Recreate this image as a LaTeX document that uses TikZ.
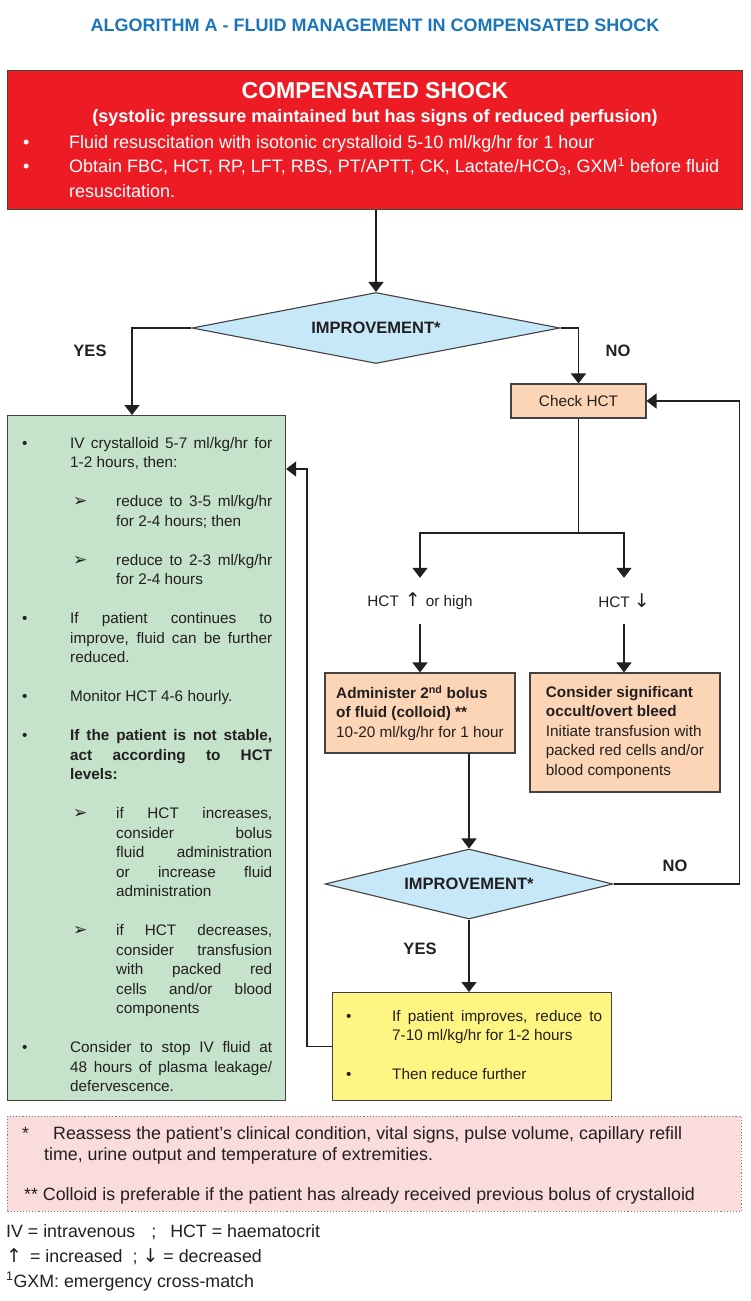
\documentclass[tikz,border=0pt]{standalone}
\usepackage{fontspec}
\setmainfont{Liberation Sans}
\newfontfamily\symfont{DejaVu Sans}
\usetikzlibrary{shapes.geometric,arrows.meta}

\definecolor{ink}{HTML}{231F20}
\definecolor{shockred}{HTML}{ED1C24}
\definecolor{titleblue}{HTML}{1B75BB}
\definecolor{decblue}{HTML}{C6E8F8}
\definecolor{caregreen}{HTML}{C5E2CB}
\definecolor{peach}{HTML}{FBD5B5}
\definecolor{weanyellow}{HTML}{FFF583}
\definecolor{notepink}{HTML}{FADCDC}

% hanging item: #1 = symbol indent, #2 = text indent, #3 = symbol
\newcommand{\hitem}[3]{\noindent\hangindent=#2\hangafter=1\hspace*{#1}\makebox[\dimexpr#2-#1\relax][l]{#3}\ignorespaces}
\newcommand{\justlist}{\setlength{\parskip}{19.5pt}\leftskip=0pt\rightskip=0pt\spaceskip=0pt\xspaceskip=0pt\parfillskip=0pt plus 1fil\relax}
\newcommand{\subarr}{{\symfont\fontsize{17}{17}\selectfont ➢}}
\newcommand{\uparr}{{\symfont\fontsize{19}{19}\selectfont ↑}}
\newcommand{\dnarr}{{\symfont\fontsize{19}{19}\selectfont ↓}}

\tikzset{box/.style={rectangle, draw=ink!85, line width=1.1pt, inner sep=0pt},
    decision/.style={diamond, draw=ink!85, line width=1.1pt, fill=decblue, inner sep=0pt,
        text=ink, font=\fontsize{16.5}{20}\selectfont\bfseries},
    arr/.style={draw=ink, line width=1.5pt, -{Triangle[width=15pt,length=10pt]}},
    line/.style={draw=ink, line width=1.5pt},
    lbl/.style={text=ink, font=\fontsize{16.5}{20}\selectfont\bfseries},
    body/.style={text=ink, font=\fontsize{15.3}{19.5}\selectfont},
    note/.style={text=ink, inner sep=0pt, anchor=base west, font=\fontsize{17.8}{22}\selectfont},
    }

\begin{document}
\begin{tikzpicture}[x=1pt,y=-1pt]
\useasboundingbox (0,0) rectangle (750,1301);

\node[anchor=base, text=titleblue, font=\fontsize{18}{22}\selectfont\bfseries] (ttl) at (375,31.5)
    {ALGORITHM A - FLUID MANAGEMENT IN COMPENSATED SHOCK};

% compensated shock
\node[box, fill=shockred, anchor=north west, minimum width=735pt, minimum height=139pt] (shock) at (7,70) {};
\node[anchor=base, text=white, font=\fontsize{23}{27}\selectfont\bfseries] (shtitle) at (375,98) {COMPENSATED SHOCK};
\node[anchor=base, text=white, font=\fontsize{18}{22}\selectfont\bfseries] (shsub) at (375,122)
    {(systolic pressure maintained but has signs of reduced perfusion)};
\node[anchor=north west, text=white, align=left, inner sep=0pt, font=\fontsize{18}{24.5}\selectfont] (shlist) at (23,134.9)
    {\makebox[46pt][l]{\textbullet}Fluid resuscitation with isotonic crystalloid 5-10 ml/kg/hr for 1 hour\\
     \makebox[46pt][l]{\textbullet}Obtain FBC, HCT, RP, LFT, RBS, PT/APTT, CK, Lactate/HCO\textsubscript{3}, GXM\textsuperscript{1} before fluid\\
     \hspace*{46pt}resuscitation.};

% first check
\node[decision, aspect=5.2, minimum width=368pt, minimum height=71pt] (imp1) at (376,328) {IMPROVEMENT*};
\draw[arr] (imp1.north |- shock.south) -- (imp1.north);
\node[lbl] (yes1) at (90,351) {YES};
\node[lbl] (no1) at (618,351) {NO};

% yes branch
\node[box, fill=caregreen, anchor=north west, minimum width=278pt, minimum height=685pt] (care) at (7,415) {};
\node[body, anchor=north west, inner sep=0pt, text width=250pt, align=justify] (caretxt) at (22,436.8) {%
\justlist
\hitem{0pt}{48pt}{\textbullet}IV crystalloid 5-7 ml/kg/hr for\linebreak 1-2 hours, then:\par
\hitem{51pt}{94pt}{\subarr}reduce to 3-5 ml/kg/hr\linebreak for 2-4 hours; then\par
\hitem{51pt}{94pt}{\subarr}reduce to 2-3 ml/kg/hr\linebreak for 2-4 hours\par
\hitem{0pt}{48pt}{\textbullet}If patient continues to\linebreak improve, fluid can be further\linebreak reduced.\par
\hitem{0pt}{48pt}{\textbullet}Monitor HCT 4-6 hourly.\par
\hitem{0pt}{48pt}{\textbullet}\textbf{If the patient is not stable,\linebreak act according to HCT\linebreak levels:}\par
\hitem{51pt}{94pt}{\subarr}if HCT increases,\linebreak consider bolus\linebreak fluid administration\linebreak or increase fluid\linebreak administration\par
\hitem{51pt}{94pt}{\subarr}if HCT decreases,\linebreak consider transfusion\linebreak with packed red\linebreak cells and/or blood\linebreak components\par
\hitem{0pt}{48pt}{\textbullet}Consider to stop IV fluid at\linebreak 48 hours of plasma leakage/\linebreak defervescence.\par};
\coordinate (yesturn) at (132,328);
\draw[arr] (imp1.west) -- (yesturn) -- (yesturn |- care.north);

% no branch
\node[box, body, fill=peach, minimum width=135pt, minimum height=34pt] (chk) at (578.5,401) {Check HCT};
\draw[arr] (imp1.east) -| (chk.north);
\coordinate (split) at (578.5,533);
\node[body, inner sep=0pt, minimum height=46pt] (hup) at (420,601) {HCT\hspace{6pt}\uparr\hspace{5pt}or high};
\node[body, inner sep=0pt, minimum height=46pt] (hdn) at (624,601) {HCT\hspace{4pt}\dnarr};
\draw[line] (chk.south) -- (split);
\draw[arr] (split) -| (hup.north);
\draw[arr] (split) -| (hdn.north);

\node[box, body, fill=peach, align=left, minimum width=190pt, minimum height=80pt] (bolus) at (420,713)
    {\textbf{Administer 2\textsuperscript{nd} bolus}\\\textbf{of fluid (colloid) **}\\10-20 ml/kg/hr for 1 hour};
\node[box, body, fill=peach, align=left, minimum width=190pt, minimum height=119pt] (bleed) at (625,732.5)
    {\textbf{Consider significant}\\\textbf{occult/overt bleed}\\Initiate transfusion with\\packed red cells and/or\\blood components};
\draw[arr] (hup.south) -- (bolus.north);
\draw[arr] (hdn.south) -- (hdn.south |- bleed.north);

% second check
\node[decision, aspect=4.1, minimum width=288pt, minimum height=70pt] (imp2) at (469,884) {IMPROVEMENT*};
\draw[arr] (imp2.north |- bolus.south) -- (imp2.north);
\draw[arr] (imp2.east) -- ++(126,0) |- (chk.east);
\node[lbl] (no2) at (675,866) {NO};
\node[lbl] (yes2) at (420,949) {YES};

\node[box, fill=weanyellow, anchor=north west, minimum width=279pt, minimum height=108pt] (wean) at (332,992) {};
\node[body, anchor=north west, inner sep=0pt, text width=256pt, align=justify] (weantxt) at (346,1010) {%
\justlist
\hitem{0pt}{46pt}{\textbullet}If patient improves, reduce to\linebreak 7-10 ml/kg/hr for 1-2 hours\par
\hitem{0pt}{46pt}{\textbullet}Then reduce further\par};
\draw[arr] (imp2.south) -- (imp2.south |- wean.north);
\coordinate (back) at (307,469);
\draw[arr] (wean.west) -| (back) -- (back -| care.east);

% footnotes
\node[box, draw=ink!60, dotted, line width=0.9pt, fill=notepink, anchor=north west, minimum width=734pt, minimum height=95pt] (notes) at (7,1116) {};
\node[note] (n1) at (22,1139) {\makebox[31pt][l]{*}Reassess the patient's clinical condition, vital signs, pulse volume, capillary refill};
\node[note] (n2) at (44,1160) {time, urine output and temperature of extremities.};
\node[note] (n3) at (24,1200) {** Colloid is preferable if the patient has already received previous bolus of crystalloid};

\node[note] (lg1) at (6,1237) {IV = intravenous\hspace{16pt};\hspace{14pt}HCT = haematocrit};
\node[note] (lg2) at (6,1262) {\uparr\hspace{8pt}= increased\hspace{10pt};\hspace{5pt}\dnarr\ = decreased};
\node[note] (lg3) at (6,1287) {\textsuperscript{1}GXM: emergency cross-match};
\end{tikzpicture}
\end{document}
